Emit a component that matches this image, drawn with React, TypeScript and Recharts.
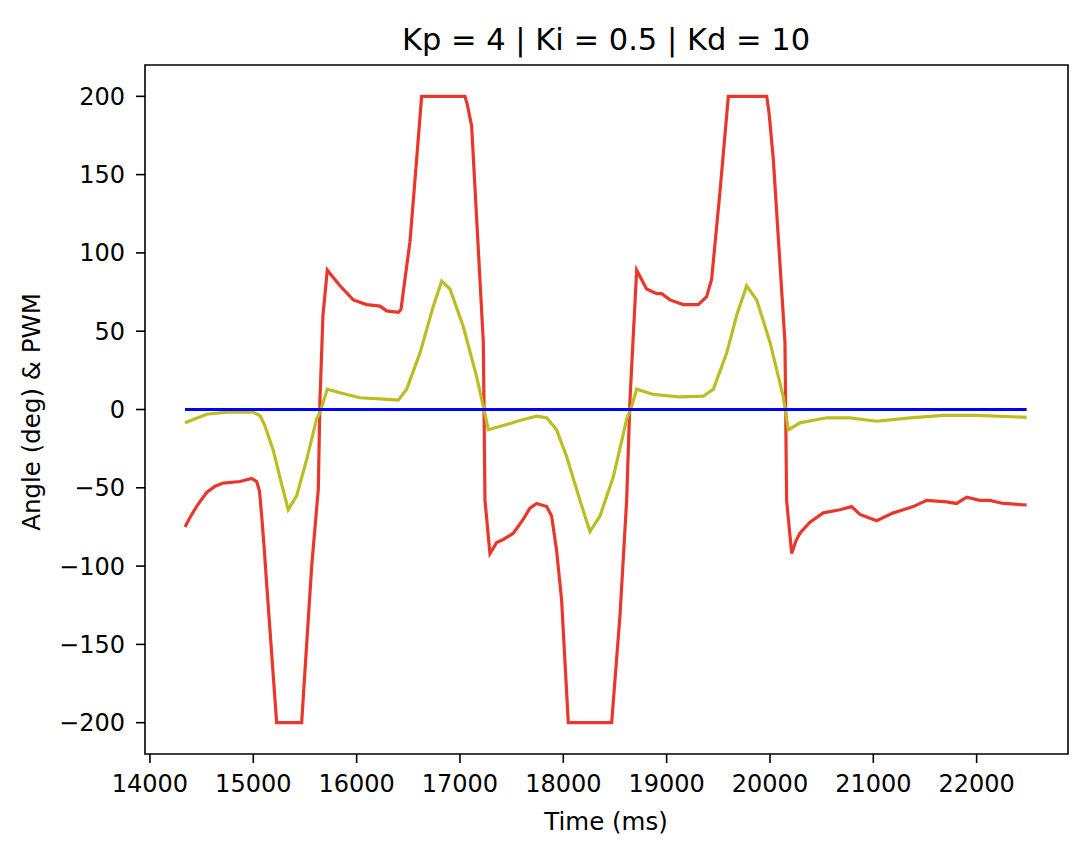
import React from 'react';
import { LineChart, Line, XAxis, YAxis, ReferenceArea } from 'recharts';

// PWM output (red)
const pwmTime = [
  14339, 14387, 14460, 14549, 14630, 14709, 14871, 14984, 15033, 15060,
  15081, 15105, 15129, 15226, 15468, 15565, 15629, 15645, 15674, 15716,
  15839, 15968, 16097, 16226, 16290, 16403, 16430, 16451, 16516, 16581,
  16629, 17048, 17070, 17113, 17226, 17242, 17290, 17355, 17419, 17516,
  17613, 17677, 17742, 17839, 17887, 17935, 17984, 18048, 18468, 18548,
  18613, 18645, 18710, 18806, 18903, 18952, 19032, 19161, 19306, 19387,
  19435, 19516, 19597, 19968, 19990, 20032, 20145, 20161, 20210, 20250,
  20290, 20387, 20516, 20677, 20790, 20871, 21032, 21194, 21290, 21386,
  21516, 21710, 21806, 21903, 22032, 22129, 22258, 22484,
];
const pwmValue = [
  -75, -69, -61, -53, -49, -47, -46, -44, -46, -52,
  -68, -88, -111, -200, -200, -100, -51, 6, 60, 89,
  79, 70, 67, 66, 63, 62, 64, 75, 107, 160,
  200, 200, 195, 181, 43, -58, -92, -85, -83, -79,
  -70, -63, -60, -62, -68, -90, -122, -200, -200, -132,
  -58, 6, 89, 77, 74, 74, 70, 67, 67, 72,
  83, 139, 200, 200, 190, 160, 43, -58, -92, -84,
  -79, -72, -66, -64, -62, -67, -71, -66, -64, -62,
  -58, -59, -60, -56, -58, -58, -60, -61,
];

// Measured angle (olive)
const angleTime = [
  14339, 14549, 14742, 15000, 15065, 15110, 15193, 15260, 15338, 15420,
  15516, 15613, 15645, 15716, 15839, 16032, 16226, 16403, 16484, 16613,
  16742, 16823, 16903, 17032, 17161, 17226, 17274, 17452, 17613, 17742,
  17839, 17935, 18032, 18161, 18258, 18355, 18484, 18613, 18661, 18710,
  18871, 19129, 19355, 19452, 19581, 19677, 19774, 19871, 20000, 20129,
  20177, 20290, 20548, 20774, 21032, 21355, 21677, 21999, 22484,
];
const angleValue = [
  -8.5, -3, -1.7, -1.7, -4, -10, -26, -44, -64, -55,
  -32, -6, -2, 13, 10.7, 7.5, 6.8, 6, 13, 36,
  66, 82, 77, 53, 21, 2, -13, -9.6, -6.4, -4.3,
  -5.3, -13, -30, -58, -78, -68, -43, -6.4, 2, 13,
  9.6, 8, 8.5, 13, 36, 60, 79, 70, 43, 8,
  -13, -8.5, -5.3, -5.3, -7.5, -5.3, -3.8, -3.8, -5,
];

// Setpoint (blue)
const setTime = [14339, 22484];
const setValue = [0, 0];

const xTicks = [14000, 15000, 16000, 17000, 18000, 19000, 20000, 21000, 22000];
const yTicks = [-200, -150, -100, -50, 0, 50, 100, 150, 200];

const X_DOMAIN: [number, number] = [13952, 22884];
const Y_DOMAIN: [number, number] = [-220, 220];

const FONT = '"DejaVu Sans", sans-serif';

const toPoints = (t: number[], v: number[]) => t.map((x, i) => ({ t: x, v: v[i] }));

const pwmData = toPoints(pwmTime, pwmValue);
const angleData = toPoints(angleTime, angleValue);
const setData = toPoints(setTime, setValue);

const fmt = (n: number) => (n < 0 ? '\u2212' + Math.abs(n) : String(n));

export default function App() {
  const tickStyle = { fill: '#000', fontSize: 24, fontFamily: FONT };
  return (
    <div style={{ position: 'absolute', left: 0, top: 0, width: 1088, height: 844, background: '#fff' }}>
      <LineChart width={1088} height={844} margin={{ top: 65, right: 20, bottom: 0, left: 0 }}>
        <XAxis
          dataKey="t"
          type="number"
          domain={X_DOMAIN}
          ticks={xTicks}
          allowDataOverflow
          height={90}
          axisLine={false}
          tickSize={9}
          tickMargin={12}
          tickLine={{ stroke: '#000', strokeWidth: 1.6 }}
          tick={tickStyle}
        />
        <YAxis
          dataKey="v"
          type="number"
          domain={Y_DOMAIN}
          ticks={yTicks}
          allowDataOverflow
          width={145}
          axisLine={false}
          tickSize={9}
          tickMargin={11}
          tickFormatter={fmt}
          tickLine={{ stroke: '#000', strokeWidth: 1.6 }}
          tick={tickStyle}
        />
        <Line data={pwmData} dataKey="v" type="linear" stroke="#e8382b" strokeWidth={3.2} dot={false} isAnimationActive={false} />
        <Line data={angleData} dataKey="v" type="linear" stroke="#bcbd22" strokeWidth={3.2} dot={false} isAnimationActive={false} />
        <Line data={setData} dataKey="v" type="linear" stroke="#0000ff" strokeWidth={3.2} dot={false} isAnimationActive={false} />
        <ReferenceArea
          x1={X_DOMAIN[0]}
          x2={X_DOMAIN[1]}
          y1={Y_DOMAIN[0]}
          y2={Y_DOMAIN[1]}
          fill="none"
          fillOpacity={0}
          stroke="#000"
          strokeWidth={1.6}
          ifOverflow="visible"
        />
      </LineChart>
      <svg width={1088} height={844} style={{ position: 'absolute', left: 0, top: 0, pointerEvents: 'none' }}>
        <text x={606} y={50} textAnchor="middle" fontSize={30.5} fontFamily={FONT} fill="#000">
          Kp = 4 | Ki = 0.5 | Kd = 10
        </text>
        <text x={606} y={830} textAnchor="middle" fontSize={24.5} fontFamily={FONT} fill="#000">
          Time (ms)
        </text>
        <text
          x={0}
          y={0}
          transform="translate(40, 412) rotate(-90)"
          textAnchor="middle"
          fontSize={24.5}
          fontFamily={FONT}
          fill="#000"
        >
          Angle (deg) &amp; PWM
        </text>
      </svg>
    </div>
  );
}
